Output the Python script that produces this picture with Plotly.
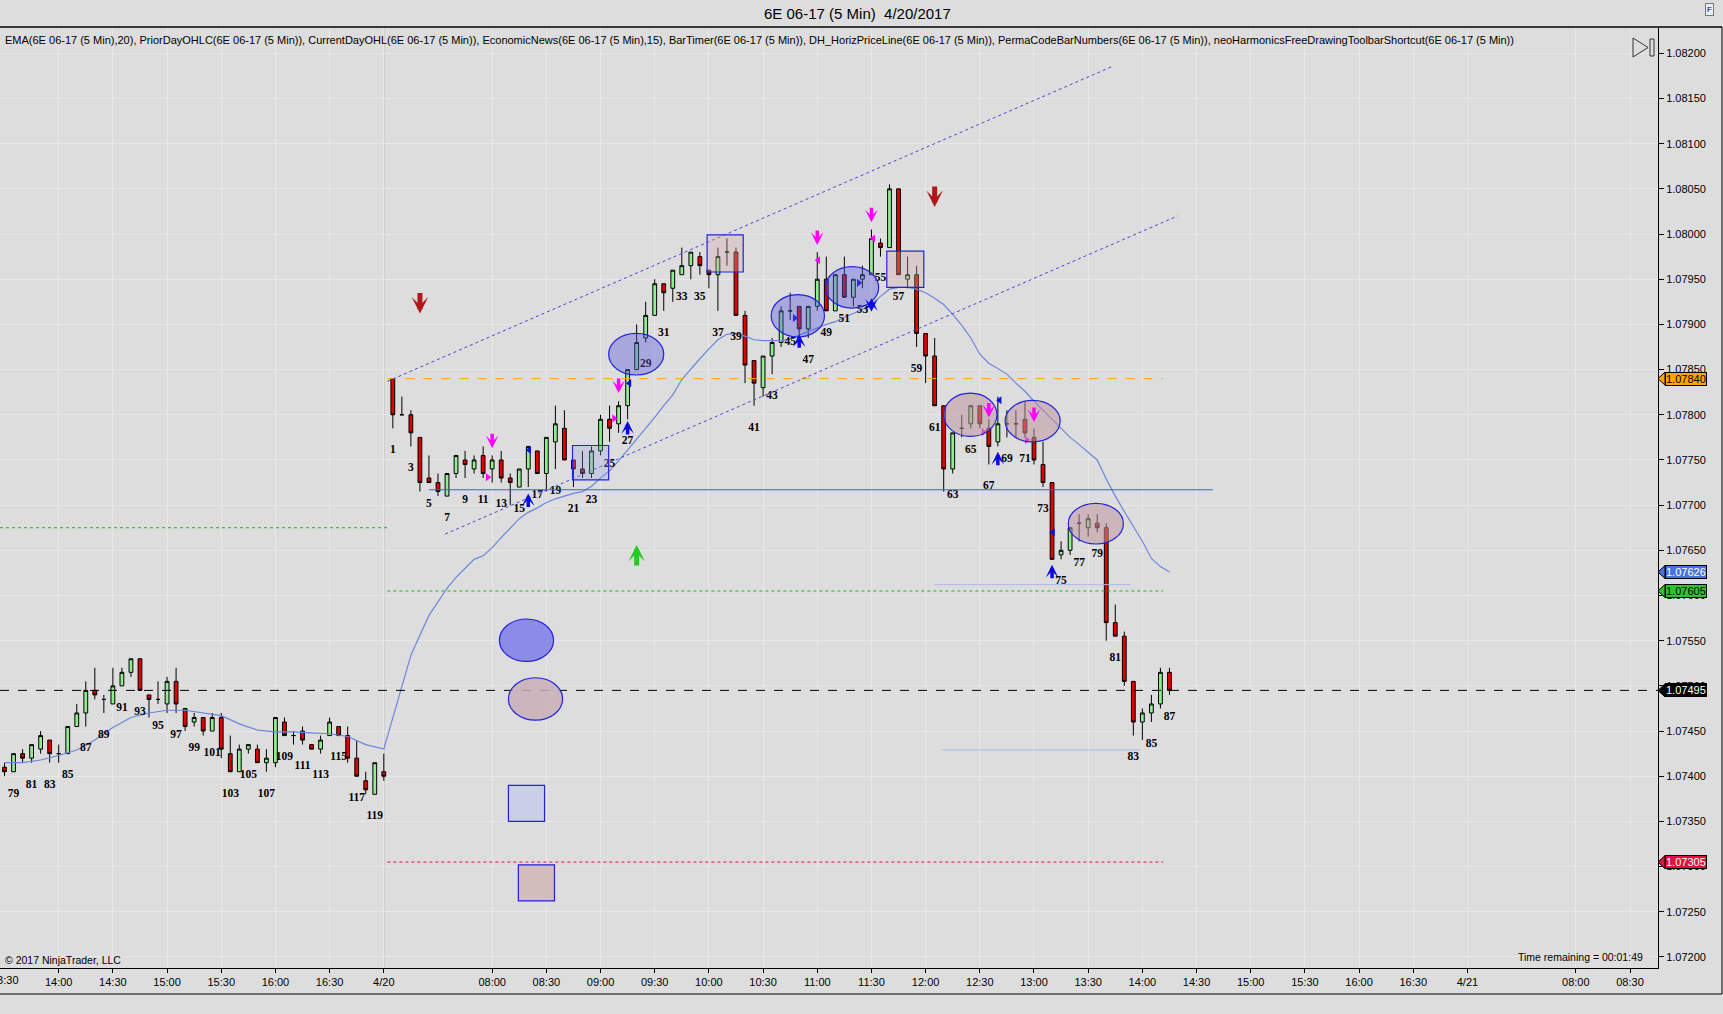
"""
6E 06-17 (5 Min) 4/20/2017 - NinjaTrader style candlestick chart
"""

import plotly.graph_objects as go

# ---- data -------------------------------------------------------------
# 4/19 session, bars 78..120 (07:00 + 5 min * bar number)
prev_bar_numbers = list(range(78, 121))
prev_open = [1.07410, 1.07405, 1.07425, 1.07420, 1.07430, 1.07440, 1.07425, 1.07425, 1.07455, 1.07470,
             1.07495, 1.07485, 1.07480, 1.07500, 1.07515, 1.07530, 1.07490, 1.07485, 1.07480, 1.07505,
             1.07475, 1.07460, 1.07465, 1.07450, 1.07465, 1.07425, 1.07405, 1.07430, 1.07430, 1.07415,
             1.07415, 1.07460, 1.07445, 1.07450, 1.07435, 1.07430, 1.07445, 1.07455, 1.07445, 1.07420,
             1.07395, 1.07380, 1.07405]
prev_high = [1.07415, 1.07425, 1.07430, 1.07435, 1.07450, 1.07440, 1.07435, 1.07455, 1.07480, 1.07505,
             1.07520, 1.07490, 1.07520, 1.07520, 1.07530, 1.07530, 1.07490, 1.07505, 1.07510, 1.07520,
             1.07475, 1.07470, 1.07465, 1.07470, 1.07470, 1.07445, 1.07435, 1.07435, 1.07435, 1.07430,
             1.07465, 1.07465, 1.07450, 1.07455, 1.07435, 1.07445, 1.07465, 1.07455, 1.07455, 1.07440,
             1.07405, 1.07415, 1.07425]
prev_low = [1.07400, 1.07405, 1.07415, 1.07415, 1.07425, 1.07415, 1.07415, 1.07425, 1.07455, 1.07455,
            1.07485, 1.07470, 1.07480, 1.07500, 1.07510, 1.07495, 1.07465, 1.07480, 1.07470, 1.07470,
            1.07450, 1.07455, 1.07445, 1.07450, 1.07420, 1.07405, 1.07405, 1.07425, 1.07415, 1.07405,
            1.07410, 1.07445, 1.07435, 1.07435, 1.07430, 1.07425, 1.07445, 1.07445, 1.07415, 1.07400,
            1.07380, 1.07380, 1.07395]
prev_close = [1.07405, 1.07425, 1.07420, 1.07435, 1.07445, 1.07425, 1.07425, 1.07455, 1.07470, 1.07495,
              1.07490, 1.07485, 1.07500, 1.07515, 1.07530, 1.07495, 1.07485, 1.07485, 1.07505, 1.07480,
              1.07455, 1.07465, 1.07450, 1.07465, 1.07430, 1.07405, 1.07430, 1.07435, 1.07415, 1.07420,
              1.07465, 1.07445, 1.07445, 1.07440, 1.07430, 1.07440, 1.07460, 1.07445, 1.07420, 1.07400,
              1.07385, 1.07415, 1.07400]

# 4/20 session, bars 1..87
cur_bar_numbers = list(range(1, 88))
cur_open = [1.07840, 1.07800, 1.07800, 1.07775, 1.07730, 1.07725, 1.07710, 1.07735, 1.07750, 1.07740,
            1.07755, 1.07740, 1.07750, 1.07730, 1.07720, 1.07740, 1.07760, 1.07735, 1.07770, 1.07785,
            1.07750, 1.07740, 1.07735, 1.07760, 1.07795, 1.07790, 1.07810, 1.07850, 1.07885, 1.07910,
            1.07945, 1.07940, 1.07955, 1.07965, 1.07975, 1.07960, 1.07955, 1.07980, 1.07980, 1.07910,
            1.07860, 1.07830, 1.07865, 1.07880, 1.07915, 1.07920, 1.07895, 1.07920, 1.07950, 1.07915,
            1.07955, 1.07930, 1.07950, 1.07955, 1.07990, 1.07985, 1.08050, 1.07950, 1.07955, 1.07890,
            1.07865, 1.07810, 1.07740, 1.07785, 1.07790, 1.07810, 1.07785, 1.07770, 1.07790, 1.07790,
            1.07795, 1.07775, 1.07745, 1.07725, 1.07645, 1.07650, 1.07680, 1.07675, 1.07680, 1.07675,
            1.07570, 1.07555, 1.07505, 1.07460, 1.07470, 1.07480, 1.07515]
cur_high = [1.07840, 1.07820, 1.07805, 1.07775, 1.07755, 1.07735, 1.07735, 1.07755, 1.07760, 1.07755,
            1.07765, 1.07755, 1.07760, 1.07735, 1.07740, 1.07765, 1.07760, 1.07775, 1.07810, 1.07805,
            1.07750, 1.07760, 1.07765, 1.07800, 1.07810, 1.07815, 1.07850, 1.07900, 1.07925, 1.07950,
            1.07945, 1.07960, 1.07985, 1.07980, 1.07980, 1.07960, 1.07985, 1.07995, 1.07985, 1.07915,
            1.07860, 1.07865, 1.07885, 1.07920, 1.07935, 1.07920, 1.07920, 1.07980, 1.07975, 1.07955,
            1.07975, 1.07950, 1.07965, 1.08005, 1.07995, 1.08055, 1.08050, 1.07975, 1.07965, 1.07890,
            1.07885, 1.07810, 1.07780, 1.07800, 1.07810, 1.07810, 1.07795, 1.07820, 1.07805, 1.07805,
            1.07815, 1.07785, 1.07770, 1.07725, 1.07660, 1.07675, 1.07690, 1.07690, 1.07690, 1.07680,
            1.07590, 1.07560, 1.07505, 1.07475, 1.07490, 1.07520, 1.07520]
cur_low = [1.07785, 1.07800, 1.07765, 1.07715, 1.07725, 1.07710, 1.07710, 1.07730, 1.07730, 1.07735,
           1.07730, 1.07725, 1.07725, 1.07700, 1.07720, 1.07720, 1.07735, 1.07715, 1.07740, 1.07750,
           1.07720, 1.07730, 1.07730, 1.07755, 1.07770, 1.07780, 1.07795, 1.07850, 1.07880, 1.07910,
           1.07915, 1.07925, 1.07955, 1.07950, 1.07955, 1.07940, 1.07915, 1.07965, 1.07910, 1.07835,
           1.07810, 1.07820, 1.07845, 1.07875, 1.07905, 1.07885, 1.07885, 1.07915, 1.07915, 1.07915,
           1.07930, 1.07920, 1.07940, 1.07955, 1.07975, 1.07985, 1.07955, 1.07940, 1.07875, 1.07835,
           1.07810, 1.07715, 1.07735, 1.07775, 1.07785, 1.07785, 1.07745, 1.07765, 1.07775, 1.07775,
           1.07775, 1.07745, 1.07720, 1.07640, 1.07640, 1.07645, 1.07660, 1.07665, 1.07670, 1.07550,
           1.07555, 1.07500, 1.07445, 1.07440, 1.07460, 1.07475, 1.07490]
cur_close = [1.07800, 1.07800, 1.07780, 1.07725, 1.07725, 1.07715, 1.07735, 1.07755, 1.07745, 1.07750,
             1.07735, 1.07750, 1.07730, 1.07725, 1.07740, 1.07765, 1.07735, 1.07775, 1.07790, 1.07750,
             1.07740, 1.07735, 1.07760, 1.07795, 1.07785, 1.07810, 1.07850, 1.07880, 1.07910, 1.07945,
             1.07935, 1.07960, 1.07965, 1.07980, 1.07965, 1.07955, 1.07975, 1.07980, 1.07910, 1.07855,
             1.07835, 1.07865, 1.07880, 1.07915, 1.07915, 1.07895, 1.07920, 1.07950, 1.07915, 1.07955,
             1.07930, 1.07950, 1.07955, 1.07995, 1.07985, 1.08050, 1.07955, 1.07955, 1.07890, 1.07865,
             1.07810, 1.07740, 1.07780, 1.07785, 1.07810, 1.07790, 1.07765, 1.07790, 1.07790, 1.07790,
             1.07780, 1.07750, 1.07725, 1.07640, 1.07650, 1.07675, 1.07680, 1.07685, 1.07675, 1.07570,
             1.07555, 1.07505, 1.07460, 1.07470, 1.07480, 1.07515, 1.07495]

# EMA(20) (global bar index, value)
ema_index = [78, 80, 82, 84, 86, 88, 90, 92, 94, 96, 98, 100, 102, 104, 106, 108, 110, 112, 114, 116, 118, 120] + \
    list(range(121, 208))
ema_values = [1.07415, 1.07415, 1.07418, 1.07423, 1.07429, 1.07440, 1.07454, 1.07465, 1.07470, 1.07473,
              1.07473, 1.07470, 1.07467, 1.07458, 1.07451, 1.07449, 1.07449, 1.07448, 1.07447, 1.07444,
              1.07435, 1.07430,
              1.07465, 1.07500, 1.07534, 1.07556, 1.07578, 1.07593, 1.07608, 1.07620, 1.07630, 1.07640,
              1.07644, 1.07653, 1.07664, 1.07675, 1.07685, 1.07692, 1.07697, 1.07703, 1.07707, 1.07710,
              1.07713, 1.07715, 1.07721, 1.07730, 1.07738, 1.07749, 1.07761, 1.07773, 1.07784, 1.07797,
              1.07810, 1.07822, 1.07839, 1.07851, 1.07862, 1.07873, 1.07883, 1.07889, 1.07890, 1.07887,
              1.07883, 1.07882, 1.07882, 1.07882, 1.07884, 1.07888, 1.07892, 1.07896, 1.07900, 1.07903,
              1.07908, 1.07912, 1.07917, 1.07922, 1.07931, 1.07939, 1.07941, 1.07941, 1.07939, 1.07935,
              1.07929, 1.07922, 1.07911, 1.07899, 1.07885, 1.07867, 1.07857, 1.07851, 1.07845, 1.07835,
              1.07826, 1.07815, 1.07805, 1.07795, 1.07785, 1.07775, 1.07767, 1.07758, 1.07750, 1.07729,
              1.07710, 1.07693, 1.07676, 1.07660, 1.07641, 1.07632, 1.07626]

# x axis (global bar index) and y axis ticks
time_ticks = [78, 84, 90, 96, 102, 108, 114, 120, 132, 138, 144, 150, 156, 162, 168, 174, 180, 186,
              192, 198, 204, 210, 216, 222, 228, 234, 240, 252, 258]
time_labels = ['13:30', '14:00', '14:30', '15:00', '15:30', '16:00', '16:30', '4/20', '08:00', '08:30',
               '09:00', '09:30', '10:00', '10:30', '11:00', '11:30', '12:00', '12:30', '13:00', '13:30',
               '14:00', '14:30', '15:00', '15:30', '16:00', '16:30', '4/21', '08:00', '08:30']
session_breaks = [120, 240]
price_ticks = [1.07200, 1.07250, 1.07300, 1.07350, 1.07400, 1.07450, 1.07500, 1.07550, 1.07600,
               1.07650, 1.07700, 1.07750, 1.07800, 1.07850, 1.07900, 1.07950, 1.08000, 1.08050,
               1.08100, 1.08150, 1.08200]

# level lines: (price, start bar, end bar, color, dash)
level_lines = [
    (1.07840, 120.4, 206.3, '#FFA500', 'dash'),
    (1.07605, 120.4, 206.3, '#22B022', 'dot'),
    (1.07305, 120.4, 206.3, '#DC143C', 'dot'),
    (1.07675, 77.5, 120.4, '#22B022', 'dot'),
    (1.07717, 125.0, 211.8, '#3E5CE8', 'solid'),
    (1.07612, 181.0, 202.7, '#AEB6EC', 'solid'),
    (1.07429, 181.8, 203.8, '#AEB6EC', 'solid'),
]
last_price = 1.07495

# channel lines drawn on the chart: (x0, y0, x1, y1)
channel_lines = [
    (120.4, 1.07837, 200.8, 1.08186),
    (126.8, 1.07668, 207.9, 1.08020),
]

# drawing objects: (kind, x0, x1, y0, y1, fill)
drawings = [
    ('circle', 144.9, 151.0, 1.07844, 1.07890, 'rgba(90,90,225,0.40)'),
    ('circle', 162.9, 168.8, 1.07886, 1.07933, 'rgba(90,90,225,0.40)'),
    ('circle', 168.9, 174.8, 1.07918, 1.07964, 'rgba(90,90,225,0.40)'),
    ('circle', 182.0, 187.9, 1.07776, 1.07824, 'rgba(190,150,160,0.55)'),
    ('circle', 188.8, 194.9, 1.07770, 1.07816, 'rgba(190,150,160,0.55)'),
    ('circle', 195.8, 201.9, 1.07657, 1.07702, 'rgba(190,150,160,0.55)'),
    ('circle', 132.8, 138.8, 1.07527, 1.07574, 'rgba(120,120,235,0.80)'),
    ('circle', 133.8, 139.8, 1.07462, 1.07509, 'rgba(200,175,185,0.85)'),
    ('rect', 133.8, 137.8, 1.07350, 1.07390, 'rgba(200,204,230,0.95)'),
    ('rect', 134.9, 138.9, 1.07262, 1.07302, 'rgba(210,185,185,0.95)'),
    ('rect', 140.9, 144.9, 1.07728, 1.07766, 'rgba(150,160,230,0.30)'),
    ('rect', 155.8, 159.8, 1.07958, 1.07999, 'rgba(210,170,170,0.35)'),
    ('rect', 175.7, 179.8, 1.07941, 1.07981, 'rgba(210,170,170,0.35)'),
]

# signal arrows: (bar, tip price)
big_down_arrows = [(124, 1.07912), (181, 1.08030)]
big_up_arrows = [(148, 1.07656)]
pink_down_arrows = [(132, 1.07763), (146, 1.07824), (168, 1.07988), (174, 1.08013), (187, 1.07797),
                    (192, 1.07792)]
blue_up_arrows = [(136, 1.07713), (147, 1.07793), (166, 1.07889), (174, 1.07929), (188, 1.07759),
                  (194, 1.07634)]
pink_right_marks = [(131.5, 1.07731), (145.5, 1.07796), (186.4, 1.07781), (191.2, 1.07772)]
pink_left_marks = [(168.1, 1.07971), (174.2, 1.07995)]
blue_left_marks = [(136.1, 1.07761), (147.2, 1.07835), (188.2, 1.07816), (194.1, 1.07670)]
blue_right_marks = [(165.5, 1.07907), (172.6, 1.07946)]

# right axis price markers: (price, background, text color)
price_markers = [
    (1.07840, '#FFA500', 'black'),
    (1.07626, '#4A72DE', 'white'),
    (1.07605, '#2FC42F', 'black'),
    (1.07495, 'black', 'white'),
    (1.07305, '#DC143C', 'white'),
]

indicator_text = ('EMA(6E 06-17 (5 Min),20), PriorDayOHLC(6E 06-17 (5 Min)), CurrentDayOHL(6E 06-17 (5 Min)), '
                  'EconomicNews(6E 06-17 (5 Min),15), BarTimer(6E 06-17 (5 Min)), DH_HorizPriceLine(6E 06-17 (5 Min)), '
                  'PermaCodeBarNumbers(6E 06-17 (5 Min)), neoHarmonicsFreeDrawingToolbarShortcut(6E 06-17 (5 Min))')

# ---- figure geometry (pixels) ------------------------------------------
W, H = 1723, 1014
ML, MR, MT, MB = 0, 65, 28, 46
PW, PH = W - ML - MR, H - MT - MB
BG = '#DDDDDD'
GRID = '#E7E7E7'
FONT = 'Liberation Sans, Arial, sans-serif'


def px(x):
    return (x - ML) / PW


def py(y):
    return (H - MB - y) / PH


# ---- traces -------------------------------------------------------------
x_prev = prev_bar_numbers
x_cur = [120 + n for n in cur_bar_numbers]
xs = x_prev + x_cur
opens = prev_open + cur_open
highs = prev_high + cur_high
lows = prev_low + cur_low
closes = prev_close + cur_close
numbers = prev_bar_numbers + cur_bar_numbers

fig = go.Figure()

fig.add_trace(go.Scatter(
    x=ema_index, y=ema_values, mode='lines',
    line=dict(color='#6C86DA', width=1.2), hoverinfo='skip', showlegend=False
))

fig.add_trace(go.Candlestick(
    x=xs, open=opens, high=highs, low=lows, close=closes,
    increasing=dict(line=dict(color='black', width=1), fillcolor='#90EE90'),
    decreasing=dict(line=dict(color='black', width=1), fillcolor='#E00000'),
    showlegend=False
))

# bar numbers under odd bars
lab_x = [x for x, n in zip(xs, numbers) if n % 2 == 1]
lab_y = [lo - 0.000243 for lo, n in zip(lows, numbers) if n % 2 == 1]
lab_t = [str(n) for n in numbers if n % 2 == 1]
fig.add_trace(go.Scatter(
    x=lab_x, y=lab_y, mode='text', text=lab_t,
    textfont=dict(family='Liberation Serif, Times New Roman, serif', size=11.5, color='black'),
    texttemplate='<b>%{text}</b>', hoverinfo='skip', showlegend=False
))

# small flag triangles
for pts, sym, col in [(pink_right_marks, 'triangle-right', '#FF00FF'),
                      (pink_left_marks, 'triangle-left', '#FF00FF'),
                      (blue_left_marks, 'triangle-left', '#1010E0'),
                      (blue_right_marks, 'triangle-right', '#1010E0')]:
    fig.add_trace(go.Scatter(
        x=[p[0] for p in pts], y=[p[1] for p in pts], mode='markers',
        marker=dict(symbol=sym, size=7, color=col, line=dict(width=0)),
        hoverinfo='skip', showlegend=False
    ))

# ---- shapes -------------------------------------------------------------
shapes = []
for b in session_breaks:
    shapes.append(dict(type='line', xref='x', yref='paper', x0=b, x1=b, y0=0, y1=1,
                       line=dict(color='#A8A8A8', width=1), layer='below'))

for price, x0, x1, col, dash in level_lines:
    shapes.append(dict(type='line', xref='x', yref='y', x0=x0, x1=x1, y0=price, y1=price,
                       line=dict(color=col, width=1, dash=dash)))

shapes.append(dict(type='line', xref='paper', yref='y', x0=0, x1=1, y0=last_price, y1=last_price,
                   line=dict(color='black', width=1, dash='dash')))

for x0, y0, x1, y1 in channel_lines:
    shapes.append(dict(type='line', xref='x', yref='y', x0=x0, y0=y0, x1=x1, y1=y1,
                       line=dict(color='#4646D8', width=1, dash='dot')))

for kind, x0, x1, y0, y1, fill in drawings:
    shapes.append(dict(type=kind, xref='x', yref='y', x0=x0, x1=x1, y0=y0, y1=y1,
                       fillcolor=fill, line=dict(color='#2222DD', width=1.2)))

# price markers on the right axis
h = 6.5 / 90400
for price, bg, fg in price_markers:
    shapes.append(dict(type='path', xref='paper', yref='y',
                       path=f'M 1,{price} L {px(ML + PW + 7)},{price + h} L {px(ML + PW + 7)},{price - h} Z',
                       fillcolor=bg, line=dict(color='black', width=1)))

# frame
shapes.append(dict(type='line', xref='paper', yref='paper', x0=px(0), x1=px(W - 1), y0=py(27), y1=py(27),
                   line=dict(color='black', width=1.5)))
shapes.append(dict(type='line', xref='paper', yref='paper', x0=px(W - 1), x1=px(W - 1), y0=py(27), y1=py(994),
                   line=dict(color='black', width=1)))
shapes.append(dict(type='line', xref='paper', yref='paper', x0=px(0), x1=px(W - 1), y0=py(994), y1=py(994),
                   line=dict(color='black', width=1)))

# ">|" toolbar icon
shapes.append(dict(type='path', xref='paper', yref='paper',
                   path=f'M {px(1633)},{py(38)} L {px(1648)},{py(47.5)} L {px(1633)},{py(57)} Z',
                   line=dict(color='#333333', width=1)))
shapes.append(dict(type='rect', xref='paper', yref='paper', x0=px(1650), x1=px(1654), y0=py(56), y1=py(39),
                   line=dict(color='#333333', width=1)))

# ---- annotations ----------------------------------------------------------
ann = []


def arrow(x, y, length, color, width, size, both=False):
    ann.append(dict(x=x, y=y, xref='x', yref='y', ax=0, ay=length, text='', showarrow=True,
                    arrowhead=3, arrowsize=size, arrowwidth=width, arrowcolor=color,
                    arrowside='end+start' if both else 'end', startarrowhead=3, startarrowsize=size))


for x, y in big_down_arrows:
    arrow(x, y, -22, '#B01818', 5, 0.55)
for x, y in big_up_arrows:
    arrow(x, y, 22, '#22CC22', 5, 0.55)
for x, y in pink_down_arrows:
    arrow(x, y, -16, '#FF00FF', 3.5, 0.6)
for i, (x, y) in enumerate(blue_up_arrows):
    arrow(x, y, 15, '#0A0AE6', 3.5, 0.6, both=(i == 3))

for price, bg, fg in price_markers:
    ann.append(dict(x=px(ML + PW + 7), y=price, xref='paper', yref='y', xanchor='left', yanchor='middle',
                    text=f'{price:.5f}', showarrow=False, bgcolor=bg, bordercolor='black', borderwidth=1,
                    borderpad=0, font=dict(family=FONT, size=11, color=fg)))

ann.append(dict(x=px(857), y=py(13), xref='paper', yref='paper', text='6E 06-17 (5 Min)  4/20/2017',
                showarrow=False, font=dict(family=FONT, size=15, color='black'),
                xanchor='center', yanchor='middle'))
ann.append(dict(x=px(3), y=py(40), xref='paper', yref='paper', text=indicator_text, showarrow=False,
                xanchor='left', yanchor='middle', font=dict(family=FONT, size=11, color='black')))
ann.append(dict(x=px(3), y=py(960), xref='paper', yref='paper', text='© 2017 NinjaTrader, LLC',
                showarrow=False, xanchor='left', yanchor='middle', font=dict(family=FONT, size=10.5, color='black')))
ann.append(dict(x=px(1645), y=py(957), xref='paper', yref='paper', text='Time remaining = 00:01:49',
                showarrow=False, xanchor='right', yanchor='middle', font=dict(family=FONT, size=10.5, color='black')))
ann.append(dict(x=px(1710), y=py(10), xref='paper', yref='paper', text='F', showarrow=False,
                xanchor='center', yanchor='middle',
                bgcolor='#EEEEEE', bordercolor='#777777', borderwidth=1, borderpad=1,
                font=dict(family=FONT, size=8, color='black')))
# first time label sits on the left edge and is cut off, as in the original
ann.append(dict(x=78, y=py(980), xref='x', yref='paper', text=time_labels[0], showarrow=False,
                xanchor='center', yanchor='middle', font=dict(family=FONT, size=11, color='black')))

# ---- layout ---------------------------------------------------------------
fig.update_layout(
    width=W, height=H,
    margin=dict(l=ML, r=MR, t=MT, b=MB),
    paper_bgcolor=BG, plot_bgcolor=BG,
    boxgap=0.4,
    showlegend=False,
    shapes=shapes,
    annotations=ann,
    xaxis=dict(
        range=[77.5, 261.1], tickmode='array', tickvals=time_ticks[1:], ticktext=time_labels[1:],
        showgrid=True, gridcolor=GRID, gridwidth=1, zeroline=False,
        ticks='outside', ticklen=4, tickcolor='black',
        showline=True, linecolor='black', linewidth=1,
        tickfont=dict(family=FONT, size=11, color='black'),
        rangeslider=dict(visible=False), fixedrange=True
    ),
    yaxis=dict(
        side='right', range=[1.071878, 1.08228], tickmode='array', tickvals=price_ticks,
        ticktext=[f'{p:.5f}' for p in price_ticks],
        showgrid=True, gridcolor=GRID, gridwidth=1, zeroline=False,
        ticks='outside', ticklen=5, tickcolor='black',
        showline=True, linecolor='black', linewidth=1,
        tickfont=dict(family=FONT, size=11, color='black'), fixedrange=True
    ),
)

fig.write_html('out.html', config={'displayModeBar': False},
               post_script="document.body.style.margin='0';")
